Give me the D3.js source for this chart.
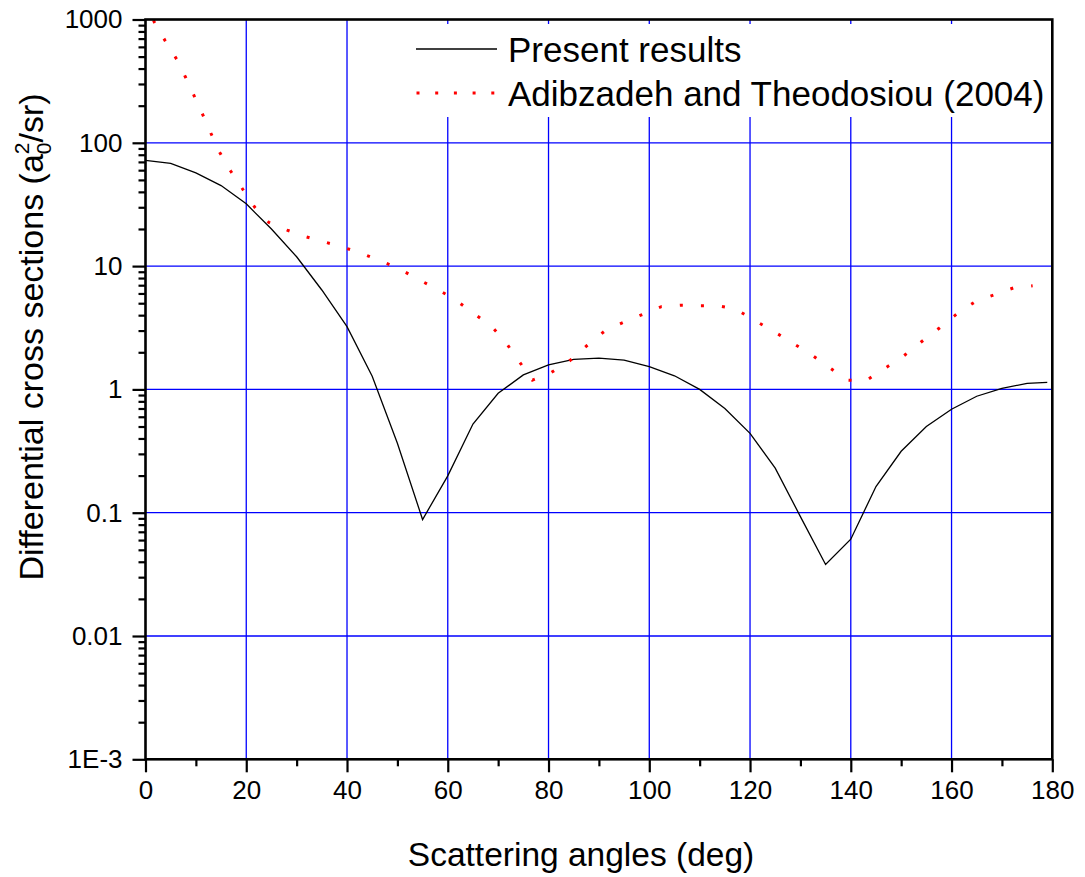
<!DOCTYPE html>
<html>
<head>
<meta charset="utf-8">
<script src="https://cdn.jsdelivr.net/npm/d3@7"></script>
<style>
  html, body { margin: 0; padding: 0; background: #fff; }
  svg { display: block; font-family: Arial, 'Liberation Sans', sans-serif; }
</style>
</head>
<body>
<div class="container"></div>
<script>
// present results, angle (deg) and DCS (a0^2/sr)
const presentAngles = [0, 5, 10, 15, 20, 25, 30, 35, 40, 45, 50, 55, 60, 65, 70, 75, 80, 85, 90,
  95, 100, 105, 110, 115, 120, 125, 130, 135, 140, 145, 150, 155, 160, 165, 170, 175, 179]
const presentValues = [72, 68, 57, 45, 32, 20, 11.9, 6.4, 3.23, 1.28, 0.366, 0.088, 0.199, 0.524,
  0.93, 1.31, 1.58, 1.75, 1.79, 1.73, 1.53, 1.29, 1.0, 0.70, 0.44, 0.23, 0.093, 0.038, 0.061,
  0.163, 0.315, 0.50, 0.69, 0.88, 1.02, 1.12, 1.14]

// Adibzadeh and Theodosiou (2004)
const adibAngles = [0, 1.7, 3.9, 6.2, 8.0, 9.7, 11.4, 13.0, 14.7, 16.9, 19.3, 21.7, 24.5, 28.1,
  31.8, 35.5, 39.1, 42.8, 46.5, 50.2, 53.9, 57.6, 61.3, 65.0, 68.7, 71.6, 74.2, 76.8, 80.4, 84.0,
  87.7, 91.4, 95.0, 98.7, 102.4, 106.1, 109.8, 113.4, 117.1, 120.8, 124.5, 128.2, 131.8, 135.5,
  139.2, 142.9, 146.5, 150.3, 153.9, 157.6, 161.2, 164.9, 168.7, 172.4, 176.1]
const adibValues = [1500, 960, 673, 475, 337, 238, 168, 119, 84, 59, 42, 30, 22.6, 19.6,
  17.3, 15.7, 14.3, 12.7, 11.1, 9.6, 7.9, 6.6, 5.4, 4.17, 3.25, 2.38, 1.68, 1.19, 1.36, 1.68,
  2.28, 3.03, 3.52, 4.06, 4.69, 4.81, 4.78, 4.78, 4.49, 3.65, 2.99, 2.41, 1.96, 1.53,
  1.19, 1.17, 1.46, 1.84, 2.41, 3.15, 4.14, 5.21, 5.9, 6.68, 6.93]

const xTicks = [0, 20, 40, 60, 80, 100, 120, 140, 160, 180]
const xMinorTicks = [10, 30, 50, 70, 90, 110, 130, 150, 170]
const yTicks = [1e-3, 1e-2, 1e-1, 1, 10, 100, 1000]
const yTickLabels = ['1E-3', '0.01', '0.1', '1', '10', '100', '1000']
const legendLabels = ['Present results', 'Adibzadeh and Theodosiou (2004)']

const W = 1085
const H = 877
const pLeft = 145.5
const pRight = 1052.3
const pTop = 19.5
const pBottom = 759.3

const svg = d3.select('.container').append('svg')
  .attr('width', W)
  .attr('height', H)

const x = d3.scaleLinear().domain([0, 180]).range([pLeft, pRight])
const y = d3.scaleLog().domain([1e-3, 1000]).range([pBottom, pTop])

// minor log ticks 2..9 in every decade
var yMinorTicks = []
for (var p = -3; p < 3; p++) {
  for (var m = 2; m <= 9; m++) yMinorTicks.push(m * Math.pow(10, p))
}

// grid
svg.append('g').selectAll('line')
  .data(xTicks.slice(1, -1))
  .join('line')
  .attr('x1', d => x(d)).attr('x2', d => x(d))
  .attr('y1', pTop).attr('y2', pBottom)
  .attr('stroke', '#0000ff').attr('stroke-width', 1.3)
svg.append('g').selectAll('line')
  .data(yTicks.slice(1, -1))
  .join('line')
  .attr('x1', pLeft).attr('x2', pRight)
  .attr('y1', d => y(d)).attr('y2', d => y(d))
  .attr('stroke', '#0000ff').attr('stroke-width', 1.3)

// legend background hides the grid
svg.append('rect')
  .attr('x', 405).attr('y', 24)
  .attr('width', pRight - 405).attr('height', 93)
  .attr('fill', '#fff')

svg.append('clipPath').attr('id', 'plotclip')
  .append('rect')
  .attr('x', pLeft).attr('y', pTop)
  .attr('width', pRight - pLeft).attr('height', pBottom - pTop)

const plot = svg.append('g').attr('clip-path', 'url(#plotclip)')

const line = d3.line()
  .x(d => x(d[0]))
  .y(d => y(d[1]))

plot.append('path')
  .attr('d', line(d3.zip(presentAngles, presentValues)))
  .attr('fill', 'none')
  .attr('stroke', '#000')
  .attr('stroke-width', 1.3)

const adibPath = plot.append('path')
  .attr('d', line(d3.zip(adibAngles, adibValues)))
  .attr('fill', 'none')
  .attr('stroke', '#ff0000')
  .attr('stroke-width', 3)

// spread the dots evenly so they sit on the read points
const total = adibPath.node().getTotalLength()
const first = Math.hypot(x(adibAngles[1]) - x(adibAngles[0]), y(adibValues[1]) - y(adibValues[0]))
const period = (total - first) / (adibAngles.length - 2)
adibPath
  .attr('stroke-dasharray', '3 ' + (period - 3))
  .attr('stroke-dashoffset', -(first - 1.5))

// axes
const xAxis = svg.append('g')
  .attr('transform', 'translate(0,' + pBottom + ')')
  .call(d3.axisBottom(x).tickValues(xTicks).tickSize(13).tickPadding(8).tickFormat(d3.format('d')))
svg.append('g')
  .attr('transform', 'translate(0,' + pBottom + ')')
  .call(d3.axisBottom(x).tickValues(xMinorTicks).tickSize(7).tickFormat(''))
  .call(g => g.select('.domain').remove())

const yAxis = svg.append('g')
  .attr('transform', 'translate(' + pLeft + ',0)')
  .call(d3.axisLeft(y).tickValues(yTicks).tickSize(13).tickPadding(10)
    .tickFormat((d, i) => yTickLabels[i]))
svg.append('g')
  .attr('transform', 'translate(' + pLeft + ',0)')
  .call(d3.axisLeft(y).tickValues(yMinorTicks).tickSize(7).tickFormat(''))
  .call(g => g.select('.domain').remove())

svg.selectAll('.tick line').attr('stroke', '#000').attr('stroke-width', 2.2)
svg.selectAll('.tick text')
  .attr('fill', '#000')
  .style('font-size', '26px')
  .style('font-family', "Arial, 'Liberation Sans', sans-serif")
xAxis.select('.domain').remove()
yAxis.select('.domain').remove()

// frame
svg.append('rect')
  .attr('x', pLeft).attr('y', pTop)
  .attr('width', pRight - pLeft).attr('height', pBottom - pTop)
  .attr('fill', 'none')
  .attr('stroke', '#000')
  .attr('stroke-width', 2.6)

// legend
svg.append('line')
  .attr('x1', 416).attr('x2', 497).attr('y1', 49).attr('y2', 49)
  .attr('stroke', '#000').attr('stroke-width', 1.3)
svg.append('line')
  .attr('x1', 416.5).attr('x2', 497).attr('y1', 93).attr('y2', 93)
  .attr('stroke', '#ff0000').attr('stroke-width', 3)
  .attr('stroke-dasharray', '3 15.7')
svg.selectAll('text.legend')
  .data(legendLabels)
  .join('text')
  .attr('class', 'legend')
  .attr('x', 508)
  .attr('y', (d, i) => 62 + i * 44)
  .style('font-size', '35px')
  .text(d => d)

// axis titles
svg.append('text')
  .attr('x', 581).attr('y', 866)
  .attr('text-anchor', 'middle')
  .style('font-size', '33.5px')
  .text('Scattering angles (deg)')

const yTitle = svg.append('text')
  .attr('transform', 'translate(43,337) rotate(-90)')
  .attr('text-anchor', 'middle')
  .style('font-size', '34px')
yTitle.append('tspan').text('Differential cross sections (a')
yTitle.append('tspan').attr('dy', 8).style('font-size', '21px').text('0')
yTitle.append('tspan').attr('dx', -11.7).attr('dy', -22).style('font-size', '21px').text('2')
yTitle.append('tspan').attr('dy', 14).text('/sr)')
</script>
</body>
</html>
